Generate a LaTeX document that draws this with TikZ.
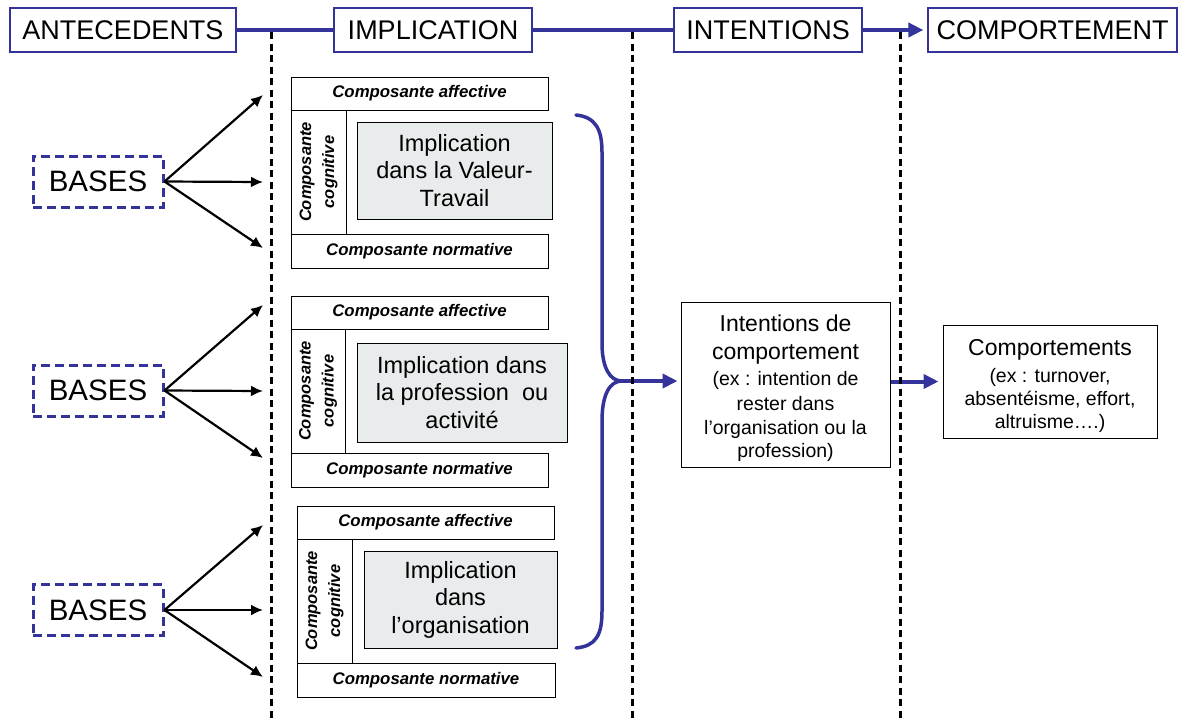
\documentclass[tikz,border=0pt]{standalone}
\usepackage{fontspec}
\setmainfont{Liberation Sans}
\usetikzlibrary{arrows.meta}
\definecolor{navy}{RGB}{51,51,153}
\definecolor{grayfill}{RGB}{232,236,236}
\begin{document}
\begin{tikzpicture}[x=1pt,y=-1pt,
  hdr/.style={draw=navy,line width=1.2pt,fill=white,minimum height=44pt,inner sep=0pt,
    font=\fontsize{27}{30}\selectfont},
  basebox/.style={draw=navy,line width=3pt,dash pattern=on 9pt off 5pt,minimum width=130pt,
    minimum height=51pt,inner sep=0pt,font=\fontsize{29.5}{32}\selectfont},
  compbox/.style={draw=black,line width=1pt,minimum width=257pt,minimum height=33pt,inner sep=0pt,
    font=\fontsize{16.8}{19}\selectfont\bfseries\itshape},
  colbox/.style={draw=black,line width=1pt,minimum width=55pt,minimum height=124pt,inner sep=0pt},
  collabel/.style={rotate=90,align=center,inner sep=0pt,
    font=\fontsize{16.5}{23}\selectfont\bfseries\itshape},
  graybox/.style={draw=black,line width=1pt,fill=grayfill,inner sep=0pt,align=center,
    font=\fontsize{23.5}{27.5}\selectfont},
  whitebox/.style={draw=black,line width=1pt,fill=white,inner sep=0pt},
  bigline/.style={anchor=base,inner sep=0pt,font=\fontsize{23}{27}\selectfont},
  smallline/.style={anchor=base,inner sep=0pt,font=\fontsize{19.5}{23}\selectfont},
  blackarrow/.style={line width=2.2pt,-{Latex[length=12pt,width=11pt]}},
  navyline/.style={draw=navy,line width=4pt},
  navyarrow/.style={draw=navy,line width=4pt,-{Triangle[length=15pt,width=14pt]}},
  bracestyle/.style={draw=navy,line width=3.5pt,line cap=round},
  sepline/.style={draw=black,line width=3pt,dash pattern=on 7pt off 4.5pt}
]
\useasboundingbox (0,0) rectangle (1180,721);
\fill[white] (0,0) rectangle (1180,721);

% headers
\node[hdr,minimum width=226pt] (h1) at (123,30) {ANTECEDENTS};
\node[hdr,minimum width=198pt] (h2) at (433,30) {IMPLICATION};
\node[hdr,minimum width=188pt] (h3) at (768,30) {INTENTIONS};
\node[hdr,minimum width=249pt] (h4) at (1052.5,30) {COMPORTEMENT};
\draw[navyline] (h1.east) -- (h2.west);
\draw[navyline] (h2.east) -- (h3.west);
\draw[navyarrow,shorten >=4pt] (h3.east) -- (h4.west);

% group 1
\node[compbox] (aff1) at (419.5,93.5) {Composante affective};
\node[colbox] (col1) at (318.5,172) {};
\node[collabel] (cl1) at (col1.center) {Composante\\cognitive};
\node[graybox,minimum width=195pt,minimum height=97pt] (g1) at (454.5,170.5) {Implication\\dans la Valeur-\\Travail};
\node[compbox,minimum height=34pt] (norm1) at (419.5,251) {Composante normative};
\node[basebox] (b1) at (98,181.5) {BASES};
\coordinate (t1a) at (263,95);
\coordinate (t1b) at (263,182);
\coordinate (t1c) at (263,248);
\draw[blackarrow] (b1.east) -- (t1a);
\draw[blackarrow] (b1.east) -- (t1b);
\draw[blackarrow] (b1.east) -- (t1c);

% group 2
\node[compbox] (aff2) at (419.5,312.5) {Composante affective};
\node[colbox,minimum width=54pt] (col2) at (318,391) {};
\node[collabel] (cl2) at (col2.center) {Composante\\cognitive};
\node[graybox,minimum width=210pt,minimum height=99pt] (g2) at (462,392.5) {Implication dans\\la profession\ \ ou\\activité};
\node[compbox,minimum height=34pt] (norm2) at (419.5,470) {Composante normative};
\node[basebox] (b2) at (98,390.5) {BASES};
\coordinate (t2a) at (263,305);
\coordinate (t2b) at (263,391);
\coordinate (t2c) at (263,458);
\draw[blackarrow] (b2.east) -- (t2a);
\draw[blackarrow] (b2.east) -- (t2b);
\draw[blackarrow] (b2.east) -- (t2c);

% group 3
\node[compbox] (aff3) at (425.5,522.5) {Composante affective};
\node[colbox] (col3) at (324.5,601) {};
\node[collabel] (cl3) at (col3.center) {Composante\\cognitive};
\node[graybox,minimum width=193pt,minimum height=97pt] (g3) at (460.5,599.5) {Implication\\dans\\l’organisation};
\node[compbox,minimum width=258pt,minimum height=34pt] (norm3) at (426,680) {Composante normative};
\node[basebox] (b3) at (98,610) {BASES};
\coordinate (t3a) at (263,525);
\coordinate (t3b) at (263,610);
\coordinate (t3c) at (263,677);
\draw[blackarrow] (b3.east) -- (t3a);
\draw[blackarrow] (b3.east) -- (t3b);
\draw[blackarrow] (b3.east) -- (t3c);

% brace
\coordinate (btop) at (576,115);
\coordinate (cusp) at (622,381);
\coordinate (bbot) at (576,648);
\draw[bracestyle] (btop) .. controls (596,117) and (602,130) .. (602,152) -- (602,343)
  .. controls (602,368) and (610,381) .. (cusp);
\draw[bracestyle] (cusp) .. controls (610,381) and (602,394) .. (602,421) -- (602,611)
  .. controls (602,635) and (596,646) .. (bbot);

% intentions
\node[whitebox,minimum width=209pt,minimum height=165pt] (int) at (785.5,384.5) {};
\node[bigline] (i1) at (785.5,331) {Intentions de};
\node[bigline] (i2) at (785.5,359) {comportement};
\node[smallline] (i3) at (785.5,385) {(ex : intention de};
\node[smallline] (i4) at (785.5,410) {rester dans};
\node[smallline] (i5) at (785.5,434) {l’organisation ou la};
\node[smallline] (i6) at (785.5,457) {profession)};

% behaviours
\node[whitebox,minimum width=214pt,minimum height=113pt] (cmp) at (1050,381.5) {};
\node[bigline] (c1) at (1050,355) {Comportements};
\node[smallline] (c2) at (1050,382) {(ex : turnover,};
\node[smallline] (c3) at (1050,405) {absentéisme, effort,};
\node[smallline] (c4) at (1050,428) {altruisme….)};

\draw[navyarrow,shorten >=3pt] (cusp) -- (cusp -| int.west);
\draw[navyarrow,shorten >=4pt] (cmp.west -| int.east) -- (cmp.west);

% separators
\coordinate (s1t) at (271,32); \coordinate (s1b) at (271,721);
\coordinate (s2t) at (632,32); \coordinate (s2b) at (632,721);
\coordinate (s3t) at (900,32); \coordinate (s3b) at (900,721);
\draw[sepline] (s1t) -- (s1b);
\draw[sepline] (s2t) -- (s2b);
\draw[sepline] (s3t) -- (s3b);
\end{tikzpicture}
\end{document}
